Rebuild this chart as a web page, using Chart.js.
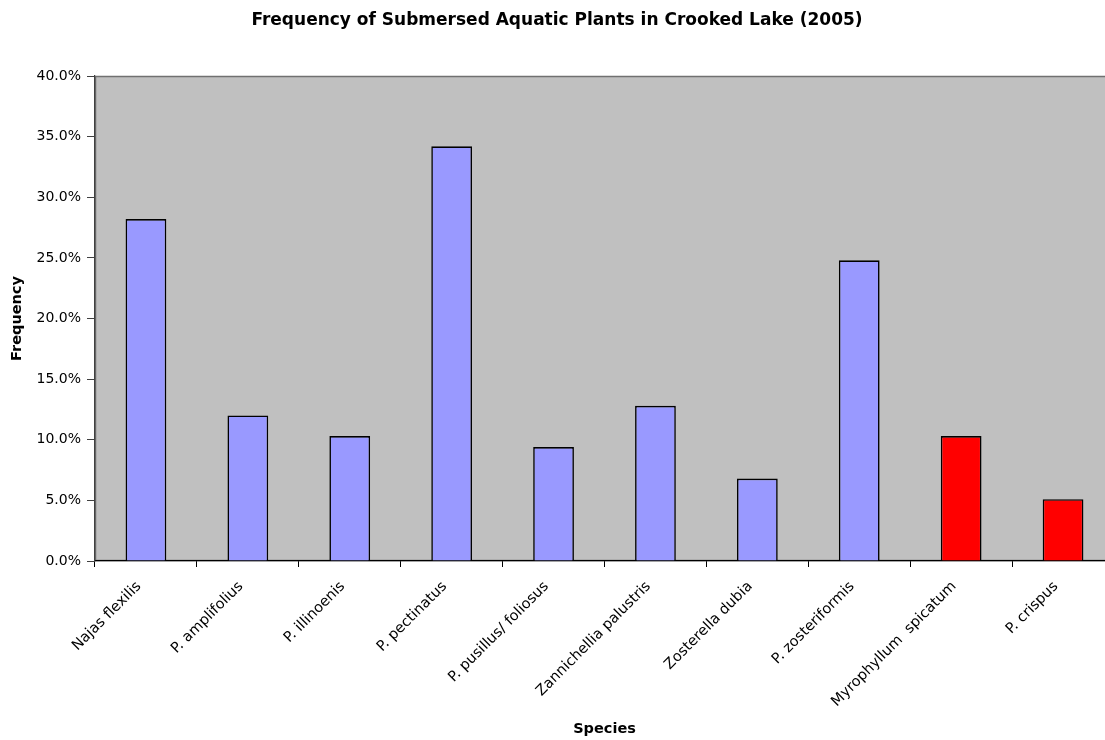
<!DOCTYPE html>
<html>
<head>
<meta charset="utf-8">
<title>Frequency of Submersed Aquatic Plants in Crooked Lake (2005)</title>
<script src="https://cdn.jsdelivr.net/npm/chart.js@4"></script>
<style>
  html, body { margin: 0; padding: 0; background: #ffffff; overflow: hidden; }
  #wrap { width: 1125px; height: 740px; }
</style>
</head>
<body>
<div id="wrap"><canvas id="c" width="1125" height="740"></canvas></div>
<script>
// Species surveyed and their frequency of occurrence (% of sample sites)
const species = [
  'Najas flexilis',
  'P. amplifolius',
  'P. illinoenis',
  'P. pectinatus',
  'P. pusillus/ foliosus',
  'Zannichellia palustris',
  'Zosterella dubia',
  'P. zosteriformis',
  'Myrophyllum  spicatum',
  'P. crispus'
];
const frequency = [28.2, 12.0, 10.3, 34.2, 9.4, 12.8, 6.8, 24.8, 10.3, 5.1];
// Exotic (invasive) species are shown in red
const invasive = [false, false, false, false, false, false, false, false, true, true];

const yMax = 40;
const yStep = 5;

const FONT = "'DejaVu Sans', 'Liberation Sans', Arial, sans-serif";

// Grey plot area with a thin border, painted before the bars
const plotBackground = {
  id: 'plotBackground',
  beforeDraw(chart) {
    const { ctx, chartArea: a } = chart;
    ctx.save();
    ctx.fillStyle = '#c0c0c0';
    ctx.fillRect(a.left, a.top, a.right - a.left, a.bottom - a.top);
    ctx.strokeStyle = '#707070';
    ctx.lineWidth = 1.5;
    ctx.strokeRect(Math.round(a.left) + 0.5, Math.round(a.top) + 0.5,
                   Math.round(a.right - a.left) - 1, Math.round(a.bottom - a.top) - 1);
    ctx.restore();
  }
};

new Chart(document.getElementById('c'), {
  type: 'bar',
  data: {
    labels: species,
    datasets: [{
      data: frequency,
      backgroundColor: invasive.map(x => x ? '#ff0000' : '#9999ff'),
      borderColor: '#000000',
      borderWidth: 1.6,
      borderSkipped: 'start',
      barPercentage: 0.4,
      categoryPercentage: 1.0
    }]
  },
  options: {
    responsive: false,
    devicePixelRatio: 1,
    animation: false,
    layout: { padding: { left: 0, right: 11, top: 0, bottom: 0 } },
    plugins: {
      legend: { display: false },
      tooltip: { enabled: false },
      title: {
        display: true,
        text: 'Frequency of Submersed Aquatic Plants in Crooked Lake (2005)',
        color: '#000000',
        font: { family: FONT, size: 17, weight: 'bold', lineHeight: 1.2 },
        padding: { top: 10, bottom: 45.6 }
      }
    },
    scales: {
      x: {
        grid: {
          display: true,
          drawOnChartArea: false,
          offset: true,
          tickLength: 6,
          color: '#000000'
        },
        border: { display: true, color: '#000000', width: 1.2 },
        ticks: {
          color: '#000000',
          font: { family: FONT, size: 14.5 },
          minRotation: 45,
          maxRotation: 45,
          autoSkip: false,
          padding: 11,
          labelOffset: -7
        },
        title: {
          display: true,
          text: 'Species',
          color: '#000000',
          font: { family: FONT, size: 14.5, weight: 'bold', lineHeight: 1.2 },
          padding: { top: 4, bottom: 2.3 }
        },
        afterFit(scale) { scale.height = 179; }
      },
      y: {
        min: 0,
        max: yMax,
        grid: {
          display: true,
          drawOnChartArea: false,
          tickLength: 8,
          color: '#404040'
        },
        border: { display: true, color: '#404040', width: 1.2 },
        ticks: {
          stepSize: yStep,
          color: '#000000',
          font: { family: FONT, size: 14 },
          padding: 6,
          callback: v => v.toFixed(1) + '%'
        },
        title: {
          display: true,
          text: 'Frequency',
          color: '#000000',
          font: { family: FONT, size: 14.5, weight: 'bold', lineHeight: 1.2 },
          padding: { top: 9, bottom: 4 }
        },
        afterFit(scale) { scale.width = 95; }
      }
    }
  },
  plugins: [plotBackground]
});
</script>
</body>
</html>
